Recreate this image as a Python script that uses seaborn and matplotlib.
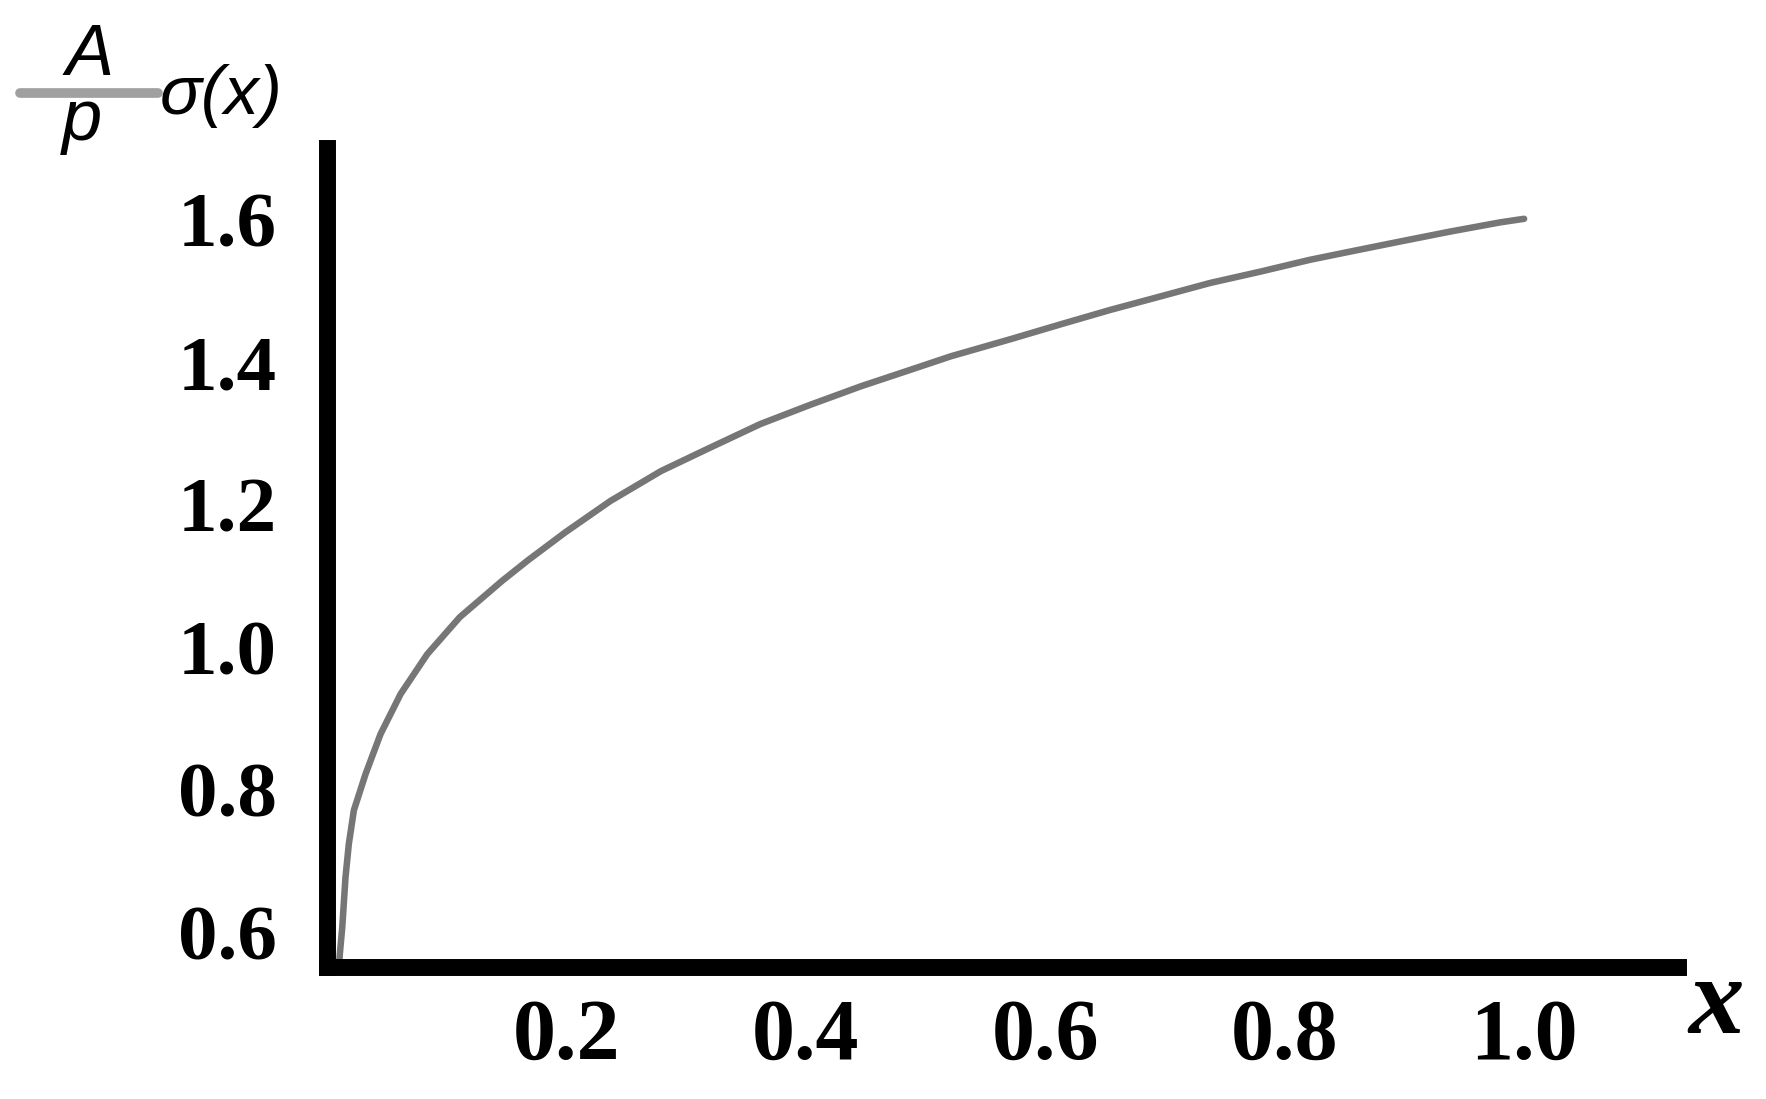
import matplotlib
matplotlib.use("Agg")
import matplotlib.pyplot as plt
from matplotlib.lines import Line2D
import seaborn as sns
import pandas as pd

# Curve values
x_vals = [0.010, 0.0107, 0.0127, 0.0154, 0.0182, 0.0224, 0.0322, 0.0447, 0.0614,
          0.0837, 0.1109, 0.1463, 0.168, 0.199, 0.2367, 0.279, 0.3202, 0.362,
          0.4037, 0.446, 0.4872, 0.521, 0.5708, 0.613, 0.654, 0.696, 0.7378,
          0.780, 0.8212, 0.8547, 0.896, 0.938, 0.980, 1.0]
sigma_vals = [0.555, 0.570, 0.607, 0.677, 0.724, 0.771, 0.822, 0.878, 0.934,
              0.990, 1.042, 1.093, 1.122, 1.161, 1.205, 1.247, 1.280, 1.313,
              1.340, 1.366, 1.389, 1.408, 1.432, 1.453, 1.473, 1.492, 1.511,
              1.527, 1.5435, 1.555, 1.569, 1.583, 1.596, 1.601]

x_ticks = [0.2, 0.4, 0.6, 0.8, 1.0]
x_tick_labels = ["0.2", "0.4", "0.6", "0.8", "1.0"]
y_ticks = [0.6, 0.8, 1.0, 1.2, 1.4, 1.6]
y_tick_labels = ["0.6", "0.8", "1.0", "1.2", "1.4", "1.6"]

df = pd.DataFrame({"x": x_vals, "sigma": sigma_vals})

sns.set_theme(style="white")

fig = plt.figure(figsize=(17.66, 10.99), dpi=100)
ax = fig.add_axes([0.1852, 0.1201, 0.7650, 0.7450])

sns.lineplot(data=df, x="x", y="sigma", ax=ax, color="#767676", linewidth=4.7,
             solid_joinstyle="round")

ax.set_xlim(0, 1.1286)
ax.set_ylim(0.551, 1.700)
ax.set_xlabel("")
ax.set_ylabel("")

# thick black axes, only left and bottom
for side in ["top", "right"]:
    ax.spines[side].set_visible(False)
for side in ["left", "bottom"]:
    ax.spines[side].set_color("black")
    ax.spines[side].set_linewidth(12.2)

ax.set_xticks(x_ticks)
ax.set_xticklabels(x_tick_labels, fontfamily="Liberation Serif",
                   fontweight="bold", fontsize=62)
ax.set_yticks(y_ticks)
ax.set_yticklabels(y_tick_labels, fontfamily="Liberation Serif",
                   fontweight="bold", fontsize=57)
ax.tick_params(axis="x", direction="in", length=11, width=2, color="#d0d0d0",
               pad=23, labelcolor="black")
ax.tick_params(axis="y", direction="in", length=11, width=2, color="#d0d0d0",
               pad=36, labelcolor="black")

# axis name x at the right end
fig.text(1716 / 1766, 1 - 1033 / 1099, "x", fontfamily="Liberation Serif",
         fontstyle="italic", fontweight="bold", fontsize=80, color="black",
         ha="center", va="baseline")

# y label: A/p sigma(x) with a grey fraction bar
fig.text(90 / 1766, 1 - 75 / 1099, "A", fontfamily="Liberation Sans",
         fontstyle="italic", fontsize=52, color="black", ha="center", va="baseline")
fig.text(82 / 1766, 1 - 140 / 1099, "p", fontfamily="Liberation Sans",
         fontstyle="italic", fontsize=52, color="black", ha="center", va="baseline")
fig.text(160 / 1766, 1 - 114 / 1099, "σ(x)", fontfamily="Liberation Sans",
         fontstyle="italic", fontsize=50, color="black", ha="left", va="baseline")
fig.add_artist(Line2D([20 / 1766, 158 / 1766], [1 - 93 / 1099, 1 - 93 / 1099],
                      transform=fig.transFigure, color="#a0a0a0", linewidth=7))

fig.savefig("out.png", dpi=100)
